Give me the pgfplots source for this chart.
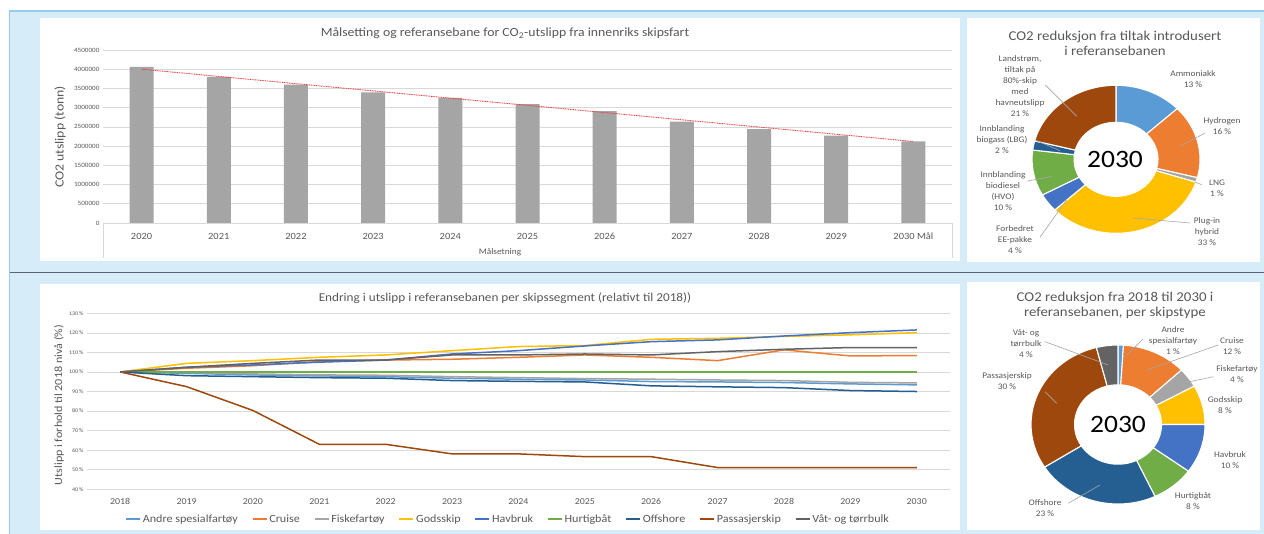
\documentclass[border=0pt]{standalone}
\usepackage{fontspec}
\setmainfont{Carlito}[FakeStretch=1.1]
\usepackage{pgfplots}
\pgfplotsset{compat=1.18}
\definecolor{bgblue}{RGB}{214,236,248}
\definecolor{edgeblue}{RGB}{150,205,235}
\definecolor{txt}{RGB}{89,89,89}
\definecolor{gridc}{RGB}{217,217,217}
\definecolor{barg}{RGB}{165,165,165}
\definecolor{lead}{RGB}{166,166,166}
\definecolor{divc}{RGB}{90,100,115}
\definecolor{trend}{RGB}{232,70,70}
\definecolor{cA}{HTML}{5B9BD5}
\definecolor{cB}{HTML}{ED7D31}
\definecolor{cC}{HTML}{A5A5A5}
\definecolor{cD}{HTML}{FFC000}
\definecolor{cE}{HTML}{4472C4}
\definecolor{cF}{HTML}{70AD47}
\definecolor{cG}{HTML}{255E91}
\definecolor{cH}{HTML}{9E480E}
\definecolor{cI}{HTML}{636363}
\newcommand\fs[2]{\fontsize{#1}{#2}\selectfont}
% donut: uses \cx \cy \rx \ry \rxi \ryi
\newcommand\donut[1]{%
  \gdef\cum{0}%
  \foreach \p/\c in {#1}{%
    \pgfmathsetmacro\aa{90-3.6*\cum}%
    \pgfmathsetmacro\bb{90-3.6*(\cum+\p)}%
    \pgfmathsetmacro\xa{\cx+\rx*cos(\aa)}%
    \pgfmathsetmacro\ya{\cy+\ry*sin(\aa)}%
    \pgfmathsetmacro\xb{\cx+\rxi*cos(\bb)}%
    \pgfmathsetmacro\yb{\cy+\ryi*sin(\bb)}%
    \edef\temp{\noexpand\fill[\c,draw=white,line width=1.1pt] (\xa,\ya) arc[start angle=\aa,end angle=\bb,x radius=\rx pt,y radius=\ry pt] -- (\xb,\yb) arc[start angle=\bb,end angle=\aa,x radius=\rxi pt,y radius=\ryi pt] -- cycle;}%
    \temp
    \pgfmathsetmacro\newcum{\cum+\p}%
    \xdef\cum{\newcum}%
  }%
}
\begin{document}
\begin{tikzpicture}[x=1pt,y=1pt]
\useasboundingbox (0,0) rectangle (1264,534);
\fill[white] (0,0) rectangle (1264,534);
\fill[bgblue] (9,0) rectangle (1264,523);
\draw[edgeblue, line width=1.6pt] (9.5,0) -- (9.5,523.2) -- (1264,523.2);
\fill[white] (40,273) rectangle (960,516);
\fill[white] (967,271.5) rectangle (1260,516);
\fill[white] (40,4) rectangle (960,250);
\fill[white] (967,4) rectangle (1260,252);
\draw[divc, line width=1.3pt] (10,261.5) -- (1264,261.5);

% ---------------- bar chart ----------------
\begin{axis}[at={(103pt,311pt)}, anchor=south west, scale only axis,
  width=849pt, height=173pt,
  xmin=-0.5, xmax=10.5, ymin=0, ymax=4500000,
  xtick={0,...,10},
  xticklabels={2020,2021,2022,2023,2024,2025,2026,2027,2028,2029,2030 Mål},
  ytick={0,500000,1000000,1500000,2000000,2500000,3000000,3500000,4000000,4500000},
  scaled y ticks=false,
  yticklabel={\pgfmathprintnumber[fixed,precision=0,1000 sep={}]{\tick}},
  /pgf/number format/assume math mode=true,
  ymajorgrids, grid style={gridc, line width=0.7pt},
  axis line style={draw=none}, major tick length=0pt,
  tick label style={text=txt},
  yticklabel style={font=\fs{6.5}{7}},
  xticklabel style={font=\fs{9.5}{10}, yshift=-6.5pt},
  clip=false]
\addplot[ybar, bar width=24pt, fill=barg, draw=none] coordinates {
 (0,4060000) (1,3800000) (2,3600000) (3,3400000) (4,3255000) (5,3090000)
 (6,2910000) (7,2640000) (8,2440000) (9,2275000) (10,2120000)};
\addplot[trend, line width=0.9pt, dash pattern=on 1pt off 0.7pt] coordinates {
 (0,4000000) (1,3812000) (2,3624000) (3,3436000) (4,3248000) (5,3060000)
 (6,2872000) (7,2684000) (8,2496000) (9,2308000) (10,2120000)};
\end{axis}
\draw[gridc, line width=0.7pt] (103,311) -- (103,276);
\draw[gridc, line width=0.7pt] (952,311) -- (952,276);
\node[text=txt, font=\fs{12.5}{14}] at (505,501) {Målsetting og referansebane for CO\textsubscript{2}-utslipp fra innenriks skipsfart};
\node[text=txt, font=\fs{8.5}{9}] at (500,282) {Målsetning};
\node[text=txt, font=\fs{12.5}{14}, rotate=90] at (60,397) {CO2 utslipp (tonn)};

% ---------------- line chart ----------------
\begin{axis}[at={(87pt,44.7pt)}, anchor=south west, scale only axis,
  width=863pt, height=176pt,
  xmin=2017.5, xmax=2030.5, ymin=40, ymax=130,
  xtick={2018,...,2030}, ytick={40,50,...,130},
  /pgf/number format/1000 sep={},
  /pgf/number format/assume math mode=true,
  yticklabel={\pgfmathprintnumber{\tick}\,\%},
  ymajorgrids, grid style={gridc, line width=0.7pt},
  axis line style={draw=none}, major tick length=0pt,
  tick label style={text=txt},
  yticklabel style={font=\fs{5.5}{6}},
  xticklabel style={font=\fs{9}{10}, yshift=-6pt},
  every axis plot/.append style={line width=1.5pt},
  legend columns=9,
  legend style={at={(0.488,-0.169)}, anchor=center, draw=none, fill=none,
    font=\fs{11}{12}, text=txt, inner sep=0pt,
    /tikz/every even column/.append style={column sep=12pt}},
  legend image code/.code={\draw[#1] (0pt,0pt) -- (14pt,0pt);},
  clip=false]
\addplot[cA] coordinates {(2018,100) (2019,99.3) (2020,98.5) (2021,98.0) (2022,97.6) (2023,96.8) (2024,96.3) (2025,95.9) (2026,95.1) (2027,94.9) (2028,94.6) (2029,93.9) (2030,93.4)};
\addplot[cB] coordinates {(2018,100) (2019,101.9) (2020,103.2) (2021,105.3) (2022,106.1) (2023,106.5) (2024,107.5) (2025,108.7) (2026,107.5) (2027,105.8) (2028,111.3) (2029,108.2) (2030,108.4)};
\addplot[cC] coordinates {(2018,100) (2019,99.8) (2020,99.0) (2021,98.5) (2022,98.3) (2023,97.6) (2024,97.1) (2025,96.6) (2026,96.3) (2027,95.9) (2028,95.6) (2029,94.7) (2030,94.4)};
\addplot[cD] coordinates {(2018,100) (2019,104.4) (2020,105.8) (2021,107.5) (2022,108.7) (2023,110.9) (2024,113.0) (2025,113.5) (2026,116.7) (2027,117.2) (2028,118.2) (2029,119.0) (2030,120.1)};
\addplot[cE] coordinates {(2018,100) (2019,102.4) (2020,103.6) (2021,105.0) (2022,106.1) (2023,109.2) (2024,110.9) (2025,113.3) (2026,115.5) (2027,116.4) (2028,118.4) (2029,120.1) (2030,121.5)};
\addplot[cF] coordinates {(2018,100) (2019,100) (2020,100) (2021,100) (2022,100) (2023,100) (2024,100) (2025,100) (2026,100) (2027,100) (2028,100) (2029,100) (2030,100)};
\addplot[cG] coordinates {(2018,100) (2019,98.1) (2020,97.6) (2021,97.1) (2022,96.8) (2023,95.6) (2024,95.2) (2025,94.9) (2026,92.9) (2027,92.4) (2028,92.0) (2029,90.5) (2030,90.0)};
\addplot[cH] coordinates {(2018,100) (2019,92.5) (2020,80.3) (2021,63.0) (2022,63.0) (2023,58.1) (2024,58.1) (2025,56.7) (2026,56.7) (2027,51.1) (2028,51.1) (2029,51.1) (2030,51.1)};
\addplot[cI] coordinates {(2018,100) (2019,102.4) (2020,104.4) (2021,106.1) (2022,106.1) (2023,108.7) (2024,108.7) (2025,109.2) (2026,108.7) (2027,110.4) (2028,111.6) (2029,112.5) (2030,112.5)};
\legend{Andre spesialfartøy,Cruise,Fiskefartøy,Godsskip,Havbruk,Hurtigbåt,Offshore,Passasjerskip,Våt- og tørrbulk}
\end{axis}
\node[text=txt, font=\fs{12}{14}] at (505,236) {Endring i utslipp i referansebanen per skipssegment (relativt til 2018))};
\node[text=txt, font=\fs{11}{12}, rotate=90] at (59,129) {Utslipp i forhold til 2018 nivå (\%)};

% ---------------- donuts ----------------
\begin{axis}[at={(0pt,0pt)}, anchor=south west, scale only axis,
  width=1264pt, height=534pt, xmin=0, xmax=1264, ymin=0, ymax=534,
  hide axis, clip=false, disabledatascaling]
\def\cx{1116}\def\cy{374.7}\def\rx{84}\def\ry{74}\def\rxi{42}\def\ryi{37}
\donut{13/cA,16/cB,1/cC,33/cD,4/cE,10/cF,2/cG,21/cH}
\end{axis}
\begin{axis}[at={(0pt,0pt)}, anchor=south west, scale only axis,
  width=1264pt, height=534pt, xmin=0, xmax=1264, ymin=0, ymax=534,
  hide axis, clip=false, disabledatascaling]
\def\cx{1118}\def\cy{109.5}\def\rx{87}\def\ry{79.5}\def\rxi{43.5}\def\ryi{39.7}
\donut{1/cA,12/cB,4/cC,8/cD,10/cE,8/cF,23/cG,30/cH,4/cI}
\end{axis}

% top donut texts
\node[text=txt, font=\fs{13.5}{15}, align=center] at (1115,490.2) {CO2 reduksjon fra tiltak introdusert\\i referansebanen};
\node[font=\fs{25}{28}] at (1115,374.7) {2030};
\begin{scope}[lead, line width=0.6pt]
\draw (1045,449.3) -- (1076.7,417.7);
\draw (1036.7,393.3) -- (1060,383.3);
\draw (1026.7,352.7) -- (1051.7,357.7);
\draw (1040,296.7) -- (1066.7,334.3);
\draw (1190,311) -- (1133.3,316);
\draw (1201.7,349.3) -- (1195,352);
\draw (1205,401) -- (1180,387.7);
\end{scope}
\begin{scope}[every node/.style={text=txt, font=\fs{8.5}{11}, align=center}]
\node at (1193,454.8) {Ammoniakk\\13 \%};
\node at (1222,407.7) {Hydrogen\\16 \%};
\node at (1217,345.5) {LNG\\1 \%};
\node at (1207,302.7) {Plug-in\\hybrid\\33 \%};
\node at (1015,294.5) {Forbedret\\EE-pakke\\4 \%};
\node at (1003,343.3) {Innblanding\\biodiesel\\(HVO)\\10 \%};
\node at (1002,394.9) {Innblanding\\biogass (LBG)\\2 \%};
\node at (1020,448.3) {Landstrøm,\\tiltak på\\80\%-skip\\med\\havneutslipp\\21 \%};
\end{scope}

% bottom donut texts
\node[text=txt, font=\fs{13.5}{15}, align=center] at (1115,228.2) {CO2 reduksjon fra 2018 til 2030 i\\referansebanen, per skipstype};
\node[font=\fs{25}{28}] at (1118,109.5) {2030};
\begin{scope}[lead, line width=0.6pt]
\draw (1045,192.3) -- (1108.3,169);
\draw (1142.7,194.7) -- (1125,177.3);
\draw (1218.3,189) -- (1146.7,164);
\draw (1213.3,157.3) -- (1190,152.3);
\draw (1045,142.3) -- (1056.7,130.7);
\draw (1068.3,30.7) -- (1100,49);
\end{scope}
\begin{scope}[every node/.style={text=txt, font=\fs{8.5}{11}, align=center}]
\node at (1173,193) {Andre\\spesialfartøy\\1 \%};
\node at (1232,187.8) {Cruise\\12 \%};
\node at (1237,160.2) {Fiskefartøy\\4 \%};
\node at (1225,128.5) {Godsskip\\8 \%};
\node at (1230,74.3) {Havbruk\\10 \%};
\node at (1193,33.2) {Hurtigbåt\\8 \%};
\node at (1045,26) {Offshore\\23 \%};
\node at (1007,153.2) {Passasjerskip\\30 \%};
\node at (1026,190.7) {Våt- og\\tørrbulk\\4 \%};
\end{scope}
\end{tikzpicture}
\end{document}
